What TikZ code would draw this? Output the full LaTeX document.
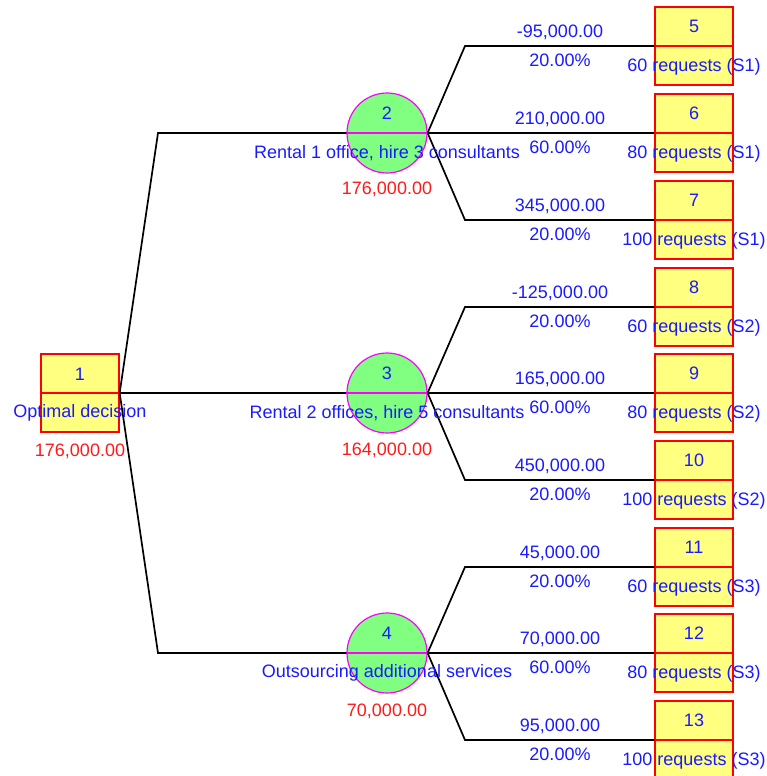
\documentclass[tikz,border=0pt]{standalone}
\usepackage{fontspec}
\setmainfont{Liberation Sans}
\definecolor{boxyellow}{HTML}{FFFF80}
\definecolor{chgreen}{HTML}{80FF80}
\definecolor{txtblue}{HTML}{1A1AFF}
\definecolor{txtred}{HTML}{FF1A1A}
\definecolor{chedge}{HTML}{FF00FF}
\tikzset{
  decbox/.style={draw=red, fill=boxyellow, minimum width=78pt, minimum height=78pt, inner sep=0pt, line width=1.3pt},
  termbox/.style={draw=red, fill=boxyellow, minimum width=78pt, minimum height=78pt, inner sep=0pt, line width=1.3pt},
  chance/.style={circle, draw=chedge, fill=chgreen, minimum size=80pt, inner sep=0pt, line width=1.2pt},
  redsplit/.style={red, line width=1.3pt},
  magsplit/.style={chedge, line width=1.2pt},
  branch/.style={black, line width=1.7pt},
  lbl/.style={text=txtblue, font=\fontsize{18}{20}\selectfont, inner sep=0pt},
  val/.style={text=txtred, font=\fontsize{18}{20}\selectfont, inner sep=0pt}
}
\newcommand\termnode[6]{%
  \node[termbox] (t#1) at (694,#2) {};
  \draw[redsplit] (t#1.west) -- (t#1.east);
  \coordinate (b#1) at (465,#2);
  \draw[branch] (c#6.east) -- (b#1) -- (t#1.west);
  \node[lbl] (tn#1) at (694,#2-20) {#1};
  \node[lbl] (tl#1) at (694,#2+21) {#5};
  \node[lbl] (tv#1) at (560,#2-14) {#3};
  \node[lbl] (tp#1) at (560,#2+14) {#4};
}
\begin{document}
\begin{tikzpicture}[x=1pt,y=-1pt]
\useasboundingbox (0,0) rectangle (767,776);
% decision node
\node[decbox] (n1) at (80,393) {};
\draw[redsplit] (n1.west) -- (n1.east);
% chance nodes
\node[chance] (c2) at (387,133) {};
\node[chance] (c3) at (387,393) {};
\node[chance] (c4) at (387,653) {};
\draw[magsplit] (c2.west) -- (c2.east);
\draw[magsplit] (c3.west) -- (c3.east);
\draw[magsplit] (c4.west) -- (c4.east);
% connectors from decision node
\coordinate (k2) at (158,133);
\coordinate (k4) at (158,653);
\draw[branch] (n1.east) -- (k2) -- (c2.west);
\draw[branch] (n1.east) -- (c3.west);
\draw[branch] (n1.east) -- (k4) -- (c4.west);
% terminal nodes
\termnode{5}{46}{-95,000.00}{20.00\%}{60 requests (S1)}{2}
\termnode{6}{133}{210,000.00}{60.00\%}{80 requests (S1)}{2}
\termnode{7}{220}{345,000.00}{20.00\%}{100 requests (S1)}{2}
\termnode{8}{307}{-125,000.00}{20.00\%}{60 requests (S2)}{3}
\termnode{9}{393}{165,000.00}{60.00\%}{80 requests (S2)}{3}
\termnode{10}{480}{450,000.00}{20.00\%}{100 requests (S2)}{3}
\termnode{11}{567}{45,000.00}{20.00\%}{60 requests (S3)}{4}
\termnode{12}{653}{70,000.00}{60.00\%}{80 requests (S3)}{4}
\termnode{13}{740}{95,000.00}{20.00\%}{100 requests (S3)}{4}
% decision node texts
\node[lbl] (n1num) at (80,374) {1};
\node[lbl] (n1lbl) at (80,413) {Optimal decision};
\node[val] (n1val) at (80,451) {176,000.00};
% chance node texts
\node[lbl] (c2num) at (387,113) {2};
\node[lbl] (c2lbl) at (387,153) {Rental 1 office, hire 3 consultants};
\node[val] (c2val) at (387,189) {176,000.00};
\node[lbl] (c3num) at (387,373) {3};
\node[lbl] (c3lbl) at (387,413) {Rental 2 offices, hire 5 consultants};
\node[val] (c3val) at (387,450) {164,000.00};
\node[lbl] (c4num) at (387,633) {4};
\node[lbl] (c4lbl) at (387,673) {Outsourcing additional services};
\node[val] (c4val) at (387,711) {70,000.00};
\end{tikzpicture}
\end{document}
